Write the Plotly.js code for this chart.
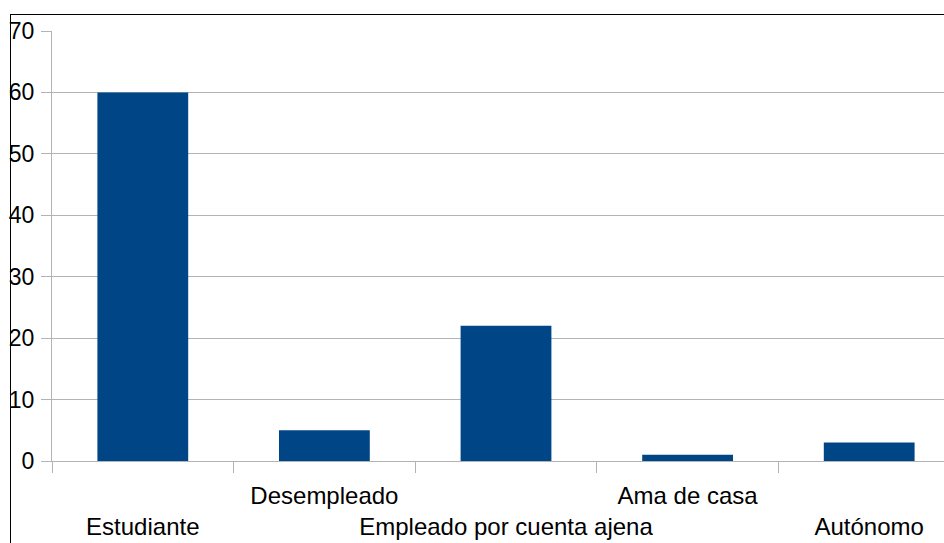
<!DOCTYPE html>
<html>
<head>
<meta charset="utf-8">
<script src="https://cdn.plot.ly/plotly-3.0.1.min.js"></script>
<style>
html,body{margin:0;padding:0;overflow:hidden;background:#fff;width:944px;height:543px;}
#frame{position:absolute;left:10px;top:14px;width:1000px;height:600px;border-left:1px solid #000;border-top:1px solid #000;pointer-events:none;z-index:5;}
#chart{position:absolute;left:0;top:0;}
</style>
</head>
<body>
<div id="chart"></div>
<div id="frame"></div>
<script>
const categories = ["Estudiante", "Desempleado", "Empleado por cuenta ajena", "Ama de casa", "Autónomo"];
const values = [60, 5, 22, 1, 3];
const tickLabels = [" <br>Estudiante", "Desempleado<br> ", " <br>Empleado por cuenta ajena", "Ama de casa<br> ", " <br>Autónomo"];

Plotly.newPlot('chart', [{
  type: 'bar',
  x: categories,
  y: values,
  marker: {color: '#004586'},
  width: 0.5,
  hoverinfo: 'none'
}], {
  width: 960,
  height: 543,
  margin: {l: 52, r: 0, t: 31, b: 82},
  paper_bgcolor: '#fff',
  plot_bgcolor: '#fff',
  font: {family: 'Liberation Sans, Arial, sans-serif', size: 23, color: '#000'},
  showlegend: false,
  xaxis: {
    type: 'category',
    tickvals: categories,
    ticktext: tickLabels,
    tickson: 'boundaries',
    ticks: 'outside',
    ticklen: 11,
    tickcolor: '#b3b3b3',
    tickwidth: 1,
    showline: true,
    linecolor: '#b3b3b3',
    linewidth: 1,
    showgrid: false,
    zeroline: false,
    tickangle: 0,
    tickfont: {size: 24},
    ticklabelstandoff: 13
  },
  yaxis: {
    range: [0, 70],
    dtick: 10,
    ticks: 'outside',
    ticklen: 10,
    tickcolor: '#b3b3b3',
    showline: true,
    linecolor: '#b3b3b3',
    linewidth: 1,
    showgrid: true,
    gridcolor: '#b3b3b3',
    gridwidth: 1,
    zeroline: false,
    ticklabelstandoff: 2
  }
}, {staticPlot: true});
</script>
</body>
</html>
